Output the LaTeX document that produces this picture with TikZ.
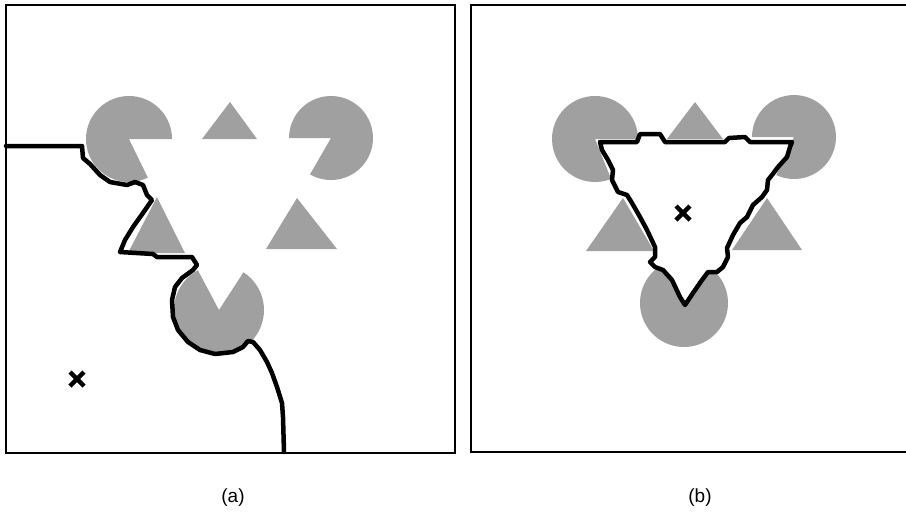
\documentclass[tikz,border=0pt]{standalone}
\usepackage{fontspec}
\setmainfont{Liberation Sans}
\usetikzlibrary{calc}
\definecolor{pacgray}{RGB}{160,160,160}
\begin{document}
\begin{tikzpicture}[x=1pt,y=-1pt,
  pac/.style={fill=pacgray},
  frame/.style={draw=black,line width=2.2pt},
  contour/.style={draw=black,line width=4.5pt,line join=round,line cap=round},
  xmark/.style={draw=black,line width=4.5pt},
  lab/.style={font=\fontsize{19}{22}\selectfont,inner sep=0pt}]
\useasboundingbox (0,0) rectangle (906,523);
\fill[white] (0,0) rectangle (906,523);
% ---------- panel (a) ----------
\draw[frame] (6,5) rectangle (455,453);
\fill[pac] (129,139) -- ++(0:43pt) arc[start angle=0,end angle=296,radius=43pt] -- cycle;
\fill[pac] (331,138) -- ++(-120:42pt) arc[start angle=-120,end angle=180,radius=42pt] -- cycle;
\fill[pac] (219,310) -- ++(118:45pt) arc[start angle=118,end angle=417,radius=45pt] -- cycle;
\fill[pac] (230,102) -- (257,139) -- (202,139) -- cycle;
\fill[pac] (157,197) -- (185,253) -- (128,253) -- cycle;
\fill[pac] (297,198) -- (337,249) -- (266,249) -- cycle;
\draw[contour] plot coordinates {(6,146) (82,146) (83,158) (90,164) (100,175) (110,182) (127,185) (135,182) (143,185) (147,195) (152,200) (143,213) (133,227) (125,240) (120,252) (153,254) (157,257) (192,257) (197,265) (193,270) (182,278) (175,287) (172,300) (173,317) (178,330) (188,342) (200,350) (215,354) (233,352) (243,347) (248,341) (253,342) (260,350) (267,362) (272,373) (277,387) (282,403) (283,417) (284,452)};
\coordinate (xa) at (77,379);
\draw[xmark] ($(xa)+(-7,-7)$) -- ($(xa)+(7,7)$);
\draw[xmark] ($(xa)+(-7,7)$) -- ($(xa)+(7,-7)$);
\node[lab] (la) at (233,498) {(a)};
% ---------- panel (b) ----------
\draw[frame,line width=2.8pt] (471,5) rectangle (908,452);
\fill[pac] (595,139) -- ++(0:43pt) arc[start angle=0,end angle=292,radius=43pt] -- cycle;
\fill[pac] (794,137) -- ++(-115:42pt) arc[start angle=-115,end angle=180,radius=42pt] -- cycle;
\fill[pac] (684,303) -- ++(115:44pt) arc[start angle=115,end angle=420,radius=44pt] -- cycle;
\fill[pac] (695,102) -- (723,139) -- (667,139) -- cycle;
\fill[pac] (623,198) -- (654,251) -- (586,251) -- cycle;
\fill[pac] (767,198) -- (802,250) -- (732,250) -- cycle;
\draw[contour,fill=white] plot coordinates {(600,142) (637,142) (640,134) (660,134) (665,142) (725,142) (729,138) (745,137) (750,142) (792,142) (790,147) (787,157) (778,167) (772,175) (768,180) (767,190) (762,197) (753,205) (747,217) (740,223) (733,235) (727,248) (728,257) (723,267) (717,272) (708,272) (702,280) (693,293) (685,305) (680,297) (672,280) (663,270) (655,267) (650,262) (655,257) (655,247) (647,230) (640,217) (632,203) (627,195) (618,192) (612,180) (613,170) (608,160) (602,150) (600,142)} -- cycle;
\coordinate (xb) at (683,213);
\draw[xmark] ($(xb)+(-7,-7)$) -- ($(xb)+(7,7)$);
\draw[xmark] ($(xb)+(-7,7)$) -- ($(xb)+(7,-7)$);
\node[lab] (lb) at (700,498) {(b)};
\end{tikzpicture}
\end{document}
